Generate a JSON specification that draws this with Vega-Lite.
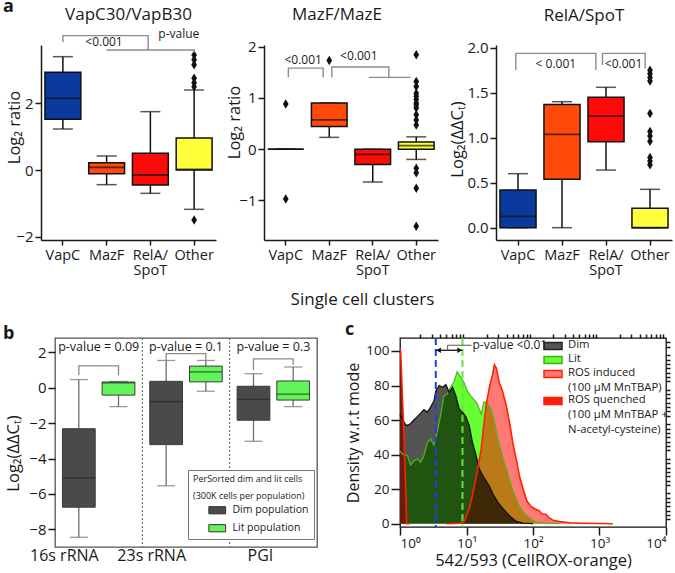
{
"$schema":"https://vega.github.io/schema/vega-lite/v6.json",
"background":"white",
"autosize":{"type":"none"},
"padding":{"left":41,"top":45,"right":634,"bottom":528},
"config":{"font":"Open Sans","view":{"stroke":null},
 "axis":{"labelFont":"Open Sans","titleFont":"Open Sans","labelColor":"#1a1a1a","titleColor":"#1a1a1a","domainColor":"#1a1a1a","tickColor":"#1a1a1a","grid":false,"titleFontWeight":"normal","domainWidth":1.5,"tickWidth":1.5},
 "title":{"font":"Open Sans","fontWeight":"normal","fontSize":17,"color":"#1a1a1a","baseline":"alphabetic"},
 "legend":{"labelFont":"Open Sans","titleFont":"Open Sans","labelColor":"#1a1a1a","titleColor":"#1a1a1a"}},
"resolve":{"scale":{"fill":"independent"},"legend":{"fill":"independent"}},
"spacing":13,
"datasets":{
 "a1box":[{"cat":"VapC","lo":1.23,"q1":1.52,"med":2.15,"q3":2.93,"hi":3.40},{"cat":"MazF","lo":-0.44,"q1":-0.11,"med":0.08,"q3":0.22,"hi":0.42},{"cat":"RelA/SpoT","lo":-0.70,"q1":-0.45,"med":-0.15,"q3":0.50,"hi":1.75},{"cat":"Other","lo":-1.18,"q1":0.0,"med":0.02,"q3":0.96,"hi":2.40}],
 "a1out":[{"cat":"Other","v":3.45},{"cat":"Other","v":3.31},{"cat":"Other","v":3.16},{"cat":"Other","v":2.75},{"cat":"Other","v":2.62},{"cat":"Other","v":2.50},{"cat":"Other","v":-1.50}],
 "a1br":[{"id":1,"o":1,"x":0.5,"y":3.83},{"id":1,"o":2,"x":0.5,"y":4.03},{"id":1,"o":3,"x":2.45,"y":4.03},{"id":1,"o":4,"x":2.45,"y":3.6},{"id":2,"o":1,"x":1.5,"y":3.6},{"id":2,"o":2,"x":3.5,"y":3.6},{"id":2,"o":3,"x":3.5,"y":3.52}],
 "a1txt":[{"x":1.44,"y":3.83,"t":"<0.001"},{"x":3.15,"y":4.07,"t":"p-value"}],
 "a2box":[{"cat":"VapC","lo":0,"q1":0,"med":0,"q3":0,"hi":0},{"cat":"MazF","lo":0.23,"q1":0.44,"med":0.57,"q3":0.90,"hi":0.90},{"cat":"RelA/SpoT","lo":-0.64,"q1":-0.30,"med":-0.10,"q3":0.0,"hi":0.0},{"cat":"Other","lo":-0.20,"q1":0.0,"med":0.07,"q3":0.14,"hi":0.24}],
 "a2out":[{"cat":"VapC","v":0.88},{"cat":"VapC","v":-0.97},{"cat":"MazF","v":1.73},{"cat":"Other","v":1.84},{"cat":"Other","v":1.32},{"cat":"Other","v":1.22},{"cat":"Other","v":1.09},{"cat":"Other","v":1.03},{"cat":"Other","v":0.97},{"cat":"Other","v":0.90},{"cat":"Other","v":0.86},{"cat":"Other","v":0.80},{"cat":"Other","v":0.67},{"cat":"Other","v":0.57},{"cat":"Other","v":0.47},{"cat":"Other","v":-0.37},{"cat":"Other","v":-0.46},{"cat":"Other","v":-0.76},{"cat":"Other","v":-1.50}],
 "a2br":[{"id":1,"o":1,"x":0.56,"y":1.40},{"id":1,"o":2,"x":0.56,"y":1.58},{"id":1,"o":3,"x":1.36,"y":1.58},{"id":1,"o":4,"x":1.36,"y":1.40},{"id":2,"o":1,"x":1.56,"y":1.40},{"id":2,"o":2,"x":1.56,"y":1.60},{"id":2,"o":3,"x":2.87,"y":1.60},{"id":2,"o":4,"x":2.87,"y":1.40},{"id":3,"o":1,"x":2.41,"y":1.40},{"id":3,"o":2,"x":3.37,"y":1.40}],
 "a2txt":[{"x":0.9,"y":1.745,"t":"<0.001"},{"x":2.18,"y":1.81,"t":"<0.001"}],
 "a3box":[{"cat":"VapC","lo":0,"q1":0,"med":0.126,"q3":0.42,"hi":0.60},{"cat":"MazF","lo":0,"q1":0.537,"med":1.037,"q3":1.37,"hi":1.40},{"cat":"RelA/SpoT","lo":0.64,"q1":0.955,"med":1.24,"q3":1.448,"hi":1.56},{"cat":"Other","lo":0,"q1":0,"med":0,"q3":0.215,"hi":0.426}],
 "a3out":[{"cat":"Other","v":1.75},{"cat":"Other","v":1.71},{"cat":"Other","v":1.67},{"cat":"Other","v":1.63},{"cat":"Other","v":1.27},{"cat":"Other","v":1.07},{"cat":"Other","v":1.02},{"cat":"Other","v":0.96},{"cat":"Other","v":0.78},{"cat":"Other","v":0.74},{"cat":"Other","v":0.70}],
 "a3br":[{"id":1,"o":1,"x":0.45,"y":1.752},{"id":1,"o":2,"x":0.45,"y":1.937},{"id":1,"o":3,"x":2.27,"y":1.937},{"id":1,"o":4,"x":2.27,"y":1.752},{"id":2,"o":1,"x":2.42,"y":1.807},{"id":2,"o":2,"x":2.42,"y":1.937},{"id":2,"o":3,"x":3.39,"y":1.937},{"id":2,"o":4,"x":3.39,"y":1.77}],
 "a3txt":[{"x":1.36,"y":1.815,"t":"< 0.001"},{"x":2.9,"y":1.815,"t":"<0.001"}],
 "bbox":[{"gene":"16s rRNA","grp":"Dim population","lo":-8.45,"q1":-6.75,"med":-5.09,"q3":-2.31,"hi":0.47},{"gene":"16s rRNA","grp":"Lit population","lo":-1.06,"q1":-0.41,"med":0.28,"q3":0.33,"hi":0.36},{"gene":"23s rRNA","grp":"Dim population","lo":-5.54,"q1":-3.21,"med":-0.78,"q3":0.37,"hi":1.55},{"gene":"23s rRNA","grp":"Lit population","lo":-0.19,"q1":0.34,"med":0.90,"q3":1.23,"hi":1.55},{"gene":"PGI","grp":"Dim population","lo":-3.02,"q1":-1.83,"med":-0.65,"q3":0.09,"hi":0.80},{"gene":"PGI","grp":"Lit population","lo":-1.06,"q1":-0.69,"med":-0.35,"q3":0.39,"hi":1.18}],
 "bbr":[{"id":1,"o":1,"gene":"16s rRNA","grp":"Dim population","y":0.72},{"id":1,"o":2,"gene":"16s rRNA","grp":"Dim population","y":1.24},{"id":1,"o":3,"gene":"16s rRNA","grp":"Lit population","y":1.24},{"id":1,"o":4,"gene":"16s rRNA","grp":"Lit population","y":0.72},{"id":2,"o":1,"gene":"23s rRNA","grp":"Dim population","y":1.57},{"id":2,"o":2,"gene":"23s rRNA","grp":"Dim population","y":1.94},{"id":2,"o":3,"gene":"23s rRNA","grp":"Lit population","y":1.94},{"id":2,"o":4,"gene":"23s rRNA","grp":"Lit population","y":1.57},{"id":3,"o":1,"gene":"PGI","grp":"Dim population","y":1.0},{"id":3,"o":2,"gene":"PGI","grp":"Dim population","y":1.64},{"id":3,"o":3,"gene":"PGI","grp":"Lit population","y":1.64},{"id":3,"o":4,"gene":"PGI","grp":"Lit population","y":1.3}],
 "btxt":[{"gene":"16s rRNA","y":2.31,"t":"p-value = 0.09"},{"gene":"23s rRNA","y":2.31,"t":"p-value = 0.1"},{"gene":"PGI","y":2.31,"t":"p-value = 0.3"}],
 "bsep":[{"gene":"23s rRNA"},{"gene":"PGI"}],
 "hist":[
  {"s":"Dim","x":1,"y":63},{"s":"Dim","x":1.072,"y":61},{"s":"Dim","x":1.148,"y":59},{"s":"Dim","x":1.23,"y":57},{"s":"Dim","x":1.318,"y":57},{"s":"Dim","x":1.445,"y":58},{"s":"Dim","x":1.622,"y":60},{"s":"Dim","x":1.82,"y":62},{"s":"Dim","x":2.042,"y":64},{"s":"Dim","x":2.291,"y":66},{"s":"Dim","x":2.57,"y":64.5},{"s":"Dim","x":2.884,"y":67.5},{"s":"Dim","x":3.236,"y":71},{"s":"Dim","x":3.467,"y":77},{"s":"Dim","x":3.89,"y":80},{"s":"Dim","x":4.365,"y":79},{"s":"Dim","x":4.898,"y":80.5},{"s":"Dim","x":5.495,"y":76},{"s":"Dim","x":6.166,"y":79},{"s":"Dim","x":6.918,"y":74},{"s":"Dim","x":7.762,"y":66.5},{"s":"Dim","x":8.71,"y":64.5},{"s":"Dim","x":9.772,"y":62},{"s":"Dim","x":10.96,"y":57},{"s":"Dim","x":12.3,"y":47},{"s":"Dim","x":13.8,"y":40},{"s":"Dim","x":15.49,"y":32},{"s":"Dim","x":17.38,"y":28},{"s":"Dim","x":19.5,"y":25},{"s":"Dim","x":21.88,"y":22},{"s":"Dim","x":25.12,"y":17},{"s":"Dim","x":29.51,"y":12.5},{"s":"Dim","x":33.88,"y":9.5},{"s":"Dim","x":38.9,"y":7},{"s":"Dim","x":45.71,"y":4},{"s":"Dim","x":54.95,"y":1.5},{"s":"Dim","x":70.79,"y":0.3},{"s":"Dim","x":100,"y":0},
  {"s":"Lit","x":1,"y":42},{"s":"Lit","x":1.122,"y":40},{"s":"Lit","x":1.288,"y":39.5},{"s":"Lit","x":1.445,"y":34},{"s":"Lit","x":1.622,"y":36.5},{"s":"Lit","x":1.82,"y":37.5},{"s":"Lit","x":2.042,"y":35.5},{"s":"Lit","x":2.291,"y":39.5},{"s":"Lit","x":2.57,"y":47},{"s":"Lit","x":2.884,"y":49},{"s":"Lit","x":3.236,"y":45.5},{"s":"Lit","x":3.631,"y":53},{"s":"Lit","x":4.074,"y":62.5},{"s":"Lit","x":4.571,"y":74},{"s":"Lit","x":5.129,"y":75},{"s":"Lit","x":5.754,"y":79},{"s":"Lit","x":6.457,"y":82},{"s":"Lit","x":7.244,"y":88},{"s":"Lit","x":8.128,"y":85},{"s":"Lit","x":9.12,"y":82},{"s":"Lit","x":10.23,"y":77},{"s":"Lit","x":11.48,"y":74},{"s":"Lit","x":12.88,"y":72},{"s":"Lit","x":14.45,"y":69.5},{"s":"Lit","x":16.6,"y":63.5},{"s":"Lit","x":18.2,"y":70.5},{"s":"Lit","x":20.42,"y":70},{"s":"Lit","x":23.44,"y":66.5},{"s":"Lit","x":26.3,"y":59},{"s":"Lit","x":29.51,"y":49},{"s":"Lit","x":33.11,"y":42},{"s":"Lit","x":37.15,"y":35},{"s":"Lit","x":41.69,"y":29},{"s":"Lit","x":48.98,"y":20},{"s":"Lit","x":56.23,"y":14},{"s":"Lit","x":61.66,"y":10.5},{"s":"Lit","x":69.18,"y":7.5},{"s":"Lit","x":77.62,"y":5},{"s":"Lit","x":93.33,"y":2.5},{"s":"Lit","x":112.2,"y":1},{"s":"Lit","x":158.5,"y":0.3},{"s":"Lit","x":251.2,"y":0},
  {"s":"ROS induced","x":5.012,"y":0},{"s":"ROS induced","x":7.943,"y":0.3},{"s":"ROS induced","x":9.333,"y":1.5},{"s":"ROS induced","x":10.96,"y":8.5},{"s":"ROS induced","x":12.02,"y":15},{"s":"ROS induced","x":13.18,"y":22},{"s":"ROS induced","x":14.79,"y":32},{"s":"ROS induced","x":16.6,"y":43},{"s":"ROS induced","x":18.2,"y":57},{"s":"ROS induced","x":19.95,"y":70},{"s":"ROS induced","x":22.39,"y":80},{"s":"ROS induced","x":24.55,"y":86},{"s":"ROS induced","x":26.3,"y":92},{"s":"ROS induced","x":28.18,"y":90},{"s":"ROS induced","x":30.9,"y":82},{"s":"ROS induced","x":34.67,"y":77},{"s":"ROS induced","x":39.81,"y":68},{"s":"ROS induced","x":44.67,"y":58},{"s":"ROS induced","x":50.12,"y":46},{"s":"ROS induced","x":56.23,"y":37},{"s":"ROS induced","x":63.1,"y":27},{"s":"ROS induced","x":72.44,"y":19},{"s":"ROS induced","x":81.28,"y":13},{"s":"ROS induced","x":93.33,"y":10},{"s":"ROS induced","x":107.2,"y":8.5},{"s":"ROS induced","x":123,"y":7.5},{"s":"ROS induced","x":138,"y":5.5},{"s":"ROS induced","x":154.9,"y":5.5},{"s":"ROS induced","x":173.8,"y":3.5},{"s":"ROS induced","x":199.5,"y":2},{"s":"ROS induced","x":251.2,"y":1.2},{"s":"ROS induced","x":354.8,"y":0.6},{"s":"ROS induced","x":562.3,"y":0.3},{"s":"ROS induced","x":1000,"y":0.1},{"s":"ROS induced","x":1585,"y":0},
  {"s":"ROS quenched","x":1,"y":101},{"s":"ROS quenched","x":1.023,"y":100},{"s":"ROS quenched","x":1.072,"y":80},{"s":"ROS quenched","x":1.122,"y":60},{"s":"ROS quenched","x":1.175,"y":38},{"s":"ROS quenched","x":1.23,"y":15},{"s":"ROS quenched","x":1.259,"y":0},{"s":"ROS quenched","x":1.413,"y":0}
 ],
 "cdash":[{"x":3.45,"c":"#1f3fe6"},{"x":8.7,"c":"#66e040"}],
 "carrow":[{"x":3.45,"x2":8.7,"y":100.4}],
 "chead":[{"x":3.8,"y":100.4,"sh":"triangle-left"},{"x":7.9,"y":100.4,"sh":"triangle-right"}],
 "cbr":[{"o":1,"x":5.2,"y":100.4},{"o":2,"x":5.2,"y":103.3},{"o":3,"x":11.9,"y":103.3}],
 "ctxt":[{"x":12.3,"y":103.3,"t":"p-value <0.01"}]
},
"vconcat":[
{"hconcat":[
 {"width":175,"height":195,
  "title":{"text":"VapC30/VapB30","offset":4},
  "resolve":{"scale":{"x":"independent"}},
  "layer":[
   {"data":{"name":"a1box"},
    "encoding":{"x":{"field":"cat","type":"nominal","title":null,"scale":{"domain":["VapC","MazF","RelA/SpoT","Other"],"paddingInner":0.18,"paddingOuter":0.09},"axis":{"labelAngle":0,"labelFontSize":14.5,"labelPadding":3,"tickSize":5,"labelLineHeight":15,"labelExpr":"datum.value == 'RelA/SpoT' ? ['RelA/', 'SpoT'] : datum.value"}}},
    "layer":[
     {"mark":{"type":"rule","color":"#111","strokeWidth":1.5},"encoding":{"y":{"field":"lo","type":"quantitative","title":"Log₂ ratio","scale":{"domain":[-2.1,3.75],"nice":false,"zero":false},"axis":{"values":[-2,-1,0,1,2,3],"tickSize":6,"labelFontSize":15,"labelPadding":2,"titleFontSize":16.5,"titleX":-19,"titleY":82}},"y2":{"field":"q1"}}},
     {"mark":{"type":"rule","color":"#111","strokeWidth":1.5},"encoding":{"y":{"field":"q3","type":"quantitative","title":"Log₂ ratio","scale":{"domain":[-2.1,3.75],"nice":false,"zero":false}},"y2":{"field":"hi"}}},
     {"mark":{"type":"tick","color":"#111","size":20,"thickness":1.5},"encoding":{"y":{"field":"lo","type":"quantitative","title":"Log₂ ratio","scale":{"domain":[-2.1,3.75],"nice":false,"zero":false}}}},
     {"mark":{"type":"tick","color":"#111","size":20,"thickness":1.5},"encoding":{"y":{"field":"hi","type":"quantitative","title":"Log₂ ratio","scale":{"domain":[-2.1,3.75],"nice":false,"zero":false}}}},
     {"mark":{"type":"bar","stroke":"#111","strokeWidth":1.5},"encoding":{"y":{"field":"q1","type":"quantitative","title":"Log₂ ratio","scale":{"domain":[-2.1,3.75],"nice":false,"zero":false}},"y2":{"field":"q3"},"fill":{"field":"cat","type":"nominal","scale":{"domain":["VapC","MazF","RelA/SpoT","Other"],"range":["#0b3a9e","#ff4a0a","#ff0a0a","#ffff3a"]},"legend":null}}},
     {"mark":{"type":"tick","color":"#111","size":36,"thickness":1.8},"encoding":{"y":{"field":"med","type":"quantitative","title":"Log₂ ratio","scale":{"domain":[-2.1,3.75],"nice":false,"zero":false}}}},
     {"data":{"name":"a1out"},"mark":{"type":"point","shape":"M0,-1L0.6,0L0,1L-0.6,0Z","filled":true,"color":"#111","size":90,"opacity":1},"encoding":{"y":{"field":"v","type":"quantitative","title":"Log₂ ratio","scale":{"domain":[-2.1,3.75],"nice":false,"zero":false}}}}
    ]},
   {"data":{"name":"a1br"},"mark":{"type":"line","color":"#8c8c8c","strokeWidth":1.4},"encoding":{"x":{"field":"x","type":"quantitative","scale":{"domain":[0,4]},"axis":null},"y":{"field":"y","type":"quantitative","title":"Log₂ ratio","scale":{"domain":[-2.1,3.75],"nice":false,"zero":false}},"detail":{"field":"id","type":"nominal"},"order":{"field":"o","type":"quantitative"}}},
   {"data":{"name":"a1txt"},"mark":{"type":"text","fontSize":12,"color":"#1a1a1a"},"encoding":{"x":{"field":"x","type":"quantitative","scale":{"domain":[0,4]},"axis":null},"y":{"field":"y","type":"quantitative","title":"Log₂ ratio","scale":{"domain":[-2.1,3.75],"nice":false,"zero":false}},"text":{"field":"t"}}}
  ]},
 {"width":8,"height":195,"data":{"values":[{}]},"mark":{"type":"text"},"encoding":{"text":{"value":""}}},
 {"width":174,"height":195,
  "title":{"text":"MazF/MazE","offset":15.5,"dx":-14},
  "resolve":{"scale":{"x":"independent"}},
  "layer":[
   {"data":{"name":"a2box"},
    "encoding":{"x":{"field":"cat","type":"nominal","scale":{"domain":["VapC","MazF","RelA/SpoT","Other"],"paddingInner":0.18,"paddingOuter":0.09},"axis":{"title":"Single cell clusters","titleFontSize":17,"titleX":98,"titleY":64,"titleBaseline":"alphabetic","labelAngle":0,"labelFontSize":14.5,"labelPadding":3,"tickSize":5,"labelLineHeight":15,"labelExpr":"datum.value == 'RelA/SpoT' ? ['RelA/', 'SpoT'] : datum.value"}}},
    "layer":[
     {"mark":{"type":"rule","color":"#111","strokeWidth":1.5},"encoding":{"y":{"field":"lo","type":"quantitative","title":"Log₂ ratio","scale":{"domain":[-1.77,2.03],"nice":false,"zero":false},"axis":{"values":[-1,0,1,2],"tickSize":6,"labelFontSize":15,"labelPadding":2,"titleFontSize":16.5,"titleX":-22,"titleY":77}},"y2":{"field":"q1"}}},
     {"mark":{"type":"rule","color":"#111","strokeWidth":1.5},"encoding":{"y":{"field":"q3","type":"quantitative","title":"Log₂ ratio","scale":{"domain":[-1.77,2.03],"nice":false,"zero":false}},"y2":{"field":"hi"}}},
     {"mark":{"type":"tick","color":"#111","size":20,"thickness":1.5},"encoding":{"y":{"field":"lo","type":"quantitative","title":"Log₂ ratio","scale":{"domain":[-1.77,2.03],"nice":false,"zero":false}}}},
     {"mark":{"type":"tick","color":"#111","size":20,"thickness":1.5},"encoding":{"y":{"field":"hi","type":"quantitative","title":"Log₂ ratio","scale":{"domain":[-1.77,2.03],"nice":false,"zero":false}}}},
     {"mark":{"type":"bar","stroke":"#111","strokeWidth":1.5},"encoding":{"y":{"field":"q1","type":"quantitative","title":"Log₂ ratio","scale":{"domain":[-1.77,2.03],"nice":false,"zero":false}},"y2":{"field":"q3"},"fill":{"field":"cat","type":"nominal","scale":{"domain":["VapC","MazF","RelA/SpoT","Other"],"range":["#0b3a9e","#ff4a0a","#ff0a0a","#ffff3a"]},"legend":null}}},
     {"mark":{"type":"tick","color":"#111","size":36,"thickness":1.8},"encoding":{"y":{"field":"med","type":"quantitative","title":"Log₂ ratio","scale":{"domain":[-1.77,2.03],"nice":false,"zero":false}}}},
     {"data":{"name":"a2out"},"mark":{"type":"point","shape":"M0,-1L0.6,0L0,1L-0.6,0Z","filled":true,"color":"#111","size":90,"opacity":1},"encoding":{"y":{"field":"v","type":"quantitative","title":"Log₂ ratio","scale":{"domain":[-1.77,2.03],"nice":false,"zero":false}}}}
    ]},
   {"data":{"name":"a2br"},"mark":{"type":"line","color":"#8c8c8c","strokeWidth":1.4},"encoding":{"x":{"field":"x","type":"quantitative","scale":{"domain":[0,4]},"axis":null},"y":{"field":"y","type":"quantitative","title":"Log₂ ratio","scale":{"domain":[-1.77,2.03],"nice":false,"zero":false}},"detail":{"field":"id","type":"nominal"},"order":{"field":"o","type":"quantitative"}}},
   {"data":{"name":"a2txt"},"mark":{"type":"text","fontSize":12,"color":"#1a1a1a"},"encoding":{"x":{"field":"x","type":"quantitative","scale":{"domain":[0,4]},"axis":null},"y":{"field":"y","type":"quantitative","title":"Log₂ ratio","scale":{"domain":[-1.77,2.03],"nice":false,"zero":false}},"text":{"field":"t"}}}
  ]},
 {"width":18,"height":195,"data":{"values":[{}]},"mark":{"type":"text"},"encoding":{"text":{"value":""}}},
 {"width":176,"height":195,
  "title":{"text":"RelA/SpoT","offset":15.5},
  "resolve":{"scale":{"x":"independent"}},
  "layer":[
   {"data":{"name":"a3box"},
    "encoding":{"x":{"field":"cat","type":"nominal","title":null,"scale":{"domain":["VapC","MazF","RelA/SpoT","Other"],"paddingInner":0.18,"paddingOuter":0.09},"axis":{"labelAngle":0,"labelFontSize":14.5,"labelPadding":3,"tickSize":5,"labelLineHeight":15,"labelExpr":"datum.value == 'RelA/SpoT' ? ['RelA/', 'SpoT'] : datum.value"}}},
    "layer":[
     {"mark":{"type":"rule","color":"#111","strokeWidth":1.5},"encoding":{"y":{"field":"lo","type":"quantitative","title":"Log₂(ΔΔCₜ)","scale":{"domain":[-0.137,2.03],"nice":false,"zero":false},"axis":{"values":[0,0.5,1,1.5,2],"format":".1f","tickSize":6,"labelFontSize":15,"labelPadding":2,"titleFontSize":16.5,"titleX":-31,"titleY":94}},"y2":{"field":"q1"}}},
     {"mark":{"type":"rule","color":"#111","strokeWidth":1.5},"encoding":{"y":{"field":"q3","type":"quantitative","title":"Log₂(ΔΔCₜ)","scale":{"domain":[-0.137,2.03],"nice":false,"zero":false}},"y2":{"field":"hi"}}},
     {"mark":{"type":"tick","color":"#111","size":20,"thickness":1.5},"encoding":{"y":{"field":"lo","type":"quantitative","title":"Log₂(ΔΔCₜ)","scale":{"domain":[-0.137,2.03],"nice":false,"zero":false}}}},
     {"mark":{"type":"tick","color":"#111","size":20,"thickness":1.5},"encoding":{"y":{"field":"hi","type":"quantitative","title":"Log₂(ΔΔCₜ)","scale":{"domain":[-0.137,2.03],"nice":false,"zero":false}}}},
     {"mark":{"type":"bar","stroke":"#111","strokeWidth":1.5},"encoding":{"y":{"field":"q1","type":"quantitative","title":"Log₂(ΔΔCₜ)","scale":{"domain":[-0.137,2.03],"nice":false,"zero":false}},"y2":{"field":"q3"},"fill":{"field":"cat","type":"nominal","scale":{"domain":["VapC","MazF","RelA/SpoT","Other"],"range":["#0b3a9e","#ff4a0a","#ff0a0a","#ffff3a"]},"legend":null}}},
     {"mark":{"type":"tick","color":"#111","size":36,"thickness":1.8},"encoding":{"y":{"field":"med","type":"quantitative","title":"Log₂(ΔΔCₜ)","scale":{"domain":[-0.137,2.03],"nice":false,"zero":false}}}},
     {"data":{"name":"a3out"},"mark":{"type":"point","shape":"M0,-1L0.6,0L0,1L-0.6,0Z","filled":true,"color":"#111","size":90,"opacity":1},"encoding":{"y":{"field":"v","type":"quantitative","title":"Log₂(ΔΔCₜ)","scale":{"domain":[-0.137,2.03],"nice":false,"zero":false}}}}
    ]},
   {"data":{"name":"a3br"},"mark":{"type":"line","color":"#8c8c8c","strokeWidth":1.4},"encoding":{"x":{"field":"x","type":"quantitative","scale":{"domain":[0,4]},"axis":null},"y":{"field":"y","type":"quantitative","title":"Log₂(ΔΔCₜ)","scale":{"domain":[-0.137,2.03],"nice":false,"zero":false}},"detail":{"field":"id","type":"nominal"},"order":{"field":"o","type":"quantitative"}}},
   {"data":{"name":"a3txt"},"mark":{"type":"text","fontSize":12,"color":"#1a1a1a"},"encoding":{"x":{"field":"x","type":"quantitative","scale":{"domain":[0,4]},"axis":null},"y":{"field":"y","type":"quantitative","title":"Log₂(ΔΔCₜ)","scale":{"domain":[-0.137,2.03],"nice":false,"zero":false}},"text":{"field":"t"}}}
  ]}
 ],
 "spacing":20,"bounds":"flush",
 "resolve":{"scale":{"fill":"independent"},"legend":{"fill":"independent"}},
 "title":{"text":"a","anchor":"start","frame":"group","dx":-38,"offset":-10,"fontSize":18,"fontWeight":"bold"}},
{"hconcat":[
 {"width":7,"height":209,"data":{"values":[{}]},"mark":{"type":"text"},"encoding":{"text":{"value":""}}},
 {"width":262,"height":209,
  "title":{"text":"b","anchor":"start","frame":"group","dx":-52,"offset":-5,"fontSize":18,"fontWeight":"bold"},
  "view":{"stroke":"#555","strokeWidth":1.3},
  "layer":[
   {"data":{"name":"bsep"},"mark":{"type":"rule","color":"#3d6e3d","strokeDash":[2,2],"strokeWidth":1},"encoding":{"x":{"field":"gene","type":"nominal","title":null,"bandPosition":0,"scale":{"domain":["16s rRNA","23s rRNA","PGI"],"paddingInner":0,"paddingOuter":0}}}},
   {"data":{"name":"bbox"},
    "encoding":{"x":{"field":"gene","type":"nominal","title":null,"scale":{"domain":["16s rRNA","23s rRNA","PGI"],"paddingInner":0,"paddingOuter":0},"axis":{"labelAngle":0,"labelFontSize":16,"labelPadding":8,"ticks":false,"domain":false}},
     "xOffset":{"field":"grp","type":"nominal","scale":{"domain":["Dim population","Lit population"],"paddingInner":0.175,"paddingOuter":0.1875}}},
    "layer":[
     {"mark":{"type":"rule","color":"#6e6e6e","strokeWidth":1.3},"encoding":{"y":{"field":"lo","type":"quantitative","title":"Log₂(ΔΔCₜ)","scale":{"domain":[-9.0,2.82],"nice":false,"zero":false},"axis":{"values":[-8,-6,-4,-2,0,2],"tickSize":7,"labelFontSize":15,"labelPadding":2,"titleFontSize":16.5,"titleX":-34,"titleY":115,"domain":false}},"y2":{"field":"hi"}}},
     {"mark":{"type":"tick","color":"#6e6e6e","size":18,"thickness":1.3},"encoding":{"y":{"field":"lo","type":"quantitative","title":"Log₂(ΔΔCₜ)","scale":{"domain":[-9.0,2.82],"nice":false,"zero":false}}}},
     {"mark":{"type":"tick","color":"#6e6e6e","size":18,"thickness":1.3},"encoding":{"y":{"field":"hi","type":"quantitative","title":"Log₂(ΔΔCₜ)","scale":{"domain":[-9.0,2.82],"nice":false,"zero":false}}}},
     {"mark":{"type":"bar","stroke":"#3a3a3a","strokeWidth":1},"encoding":{"y":{"field":"q1","type":"quantitative","title":"Log₂(ΔΔCₜ)","scale":{"domain":[-9.0,2.82],"nice":false,"zero":false}},"y2":{"field":"q3"},
       "fill":{"field":"grp","type":"nominal","scale":{"domain":["Dim population","Lit population"],"range":["#4a4a4a","#62f55a"]},
        "legend":{"orient":"none","legendX":133,"legendY":132,"title":["PerSorted dim and lit cells","(300K cells per population)"],"titleFontSize":9,"titleFontWeight":"normal","titleLineHeight":17,"titlePadding":4,"labelFontSize":10.5,"symbolType":"M-2.1,-0.9H2.1V0.9H-2.1Z","symbolSize":64,"symbolOffset":19,"symbolStrokeColor":"#333","symbolStrokeWidth":1,"strokeColor":"#777","fillColor":"white","padding":5,"rowPadding":6,"labelOffset":10}}}},
     {"mark":{"type":"tick","color":"#222","size":33,"thickness":1.3},"encoding":{"y":{"field":"med","type":"quantitative","title":"Log₂(ΔΔCₜ)","scale":{"domain":[-9.0,2.82],"nice":false,"zero":false}}}}
    ]},
   {"data":{"name":"bbr"},"mark":{"type":"line","color":"#8c8c8c","strokeWidth":1.3},"encoding":{"x":{"field":"gene","type":"nominal","title":null},"xOffset":{"field":"grp","type":"nominal"},"y":{"field":"y","type":"quantitative","title":"Log₂(ΔΔCₜ)","scale":{"domain":[-9.0,2.82],"nice":false,"zero":false}},"detail":{"field":"id","type":"nominal"},"order":{"field":"o","type":"quantitative"}}},
   {"data":{"name":"btxt"},"mark":{"type":"text","fontSize":12.5,"color":"#1a1a1a"},"encoding":{"x":{"field":"gene","type":"nominal","title":null},"y":{"field":"y","type":"quantitative","title":"Log₂(ΔΔCₜ)","scale":{"domain":[-9.0,2.82],"nice":false,"zero":false}},"text":{"field":"t"}}}
  ]},
 {"width":69,"height":189,"data":{"values":[{}]},"mark":{"type":"text"},"encoding":{"text":{"value":""}}},
 {"width":266,"height":189,
  "title":{"text":"c","anchor":"start","frame":"group","dx":-55,"offset":-6,"fontSize":18,"fontWeight":"bold"},
  "view":{"stroke":"#111","strokeWidth":1.3},
  "data":{"name":"hist"},
  "resolve":{"axis":{"x":"independent","y":"independent"}},
  "layer":[
   {"transform":[{"filter":"datum.s == 'Lit'"}],"mark":{"type":"area","fillOpacity":1},
    "encoding":{"x":{"field":"x","type":"quantitative","scale":{"type":"log","domain":[1,10000],"nice":false},"axis":{"values":[1,10,100,1000,10000],"tickSize":8,"labelFontSize":13.5,"labelPadding":1,"domain":false,"title":"542/593 (CellROX-orange)","titleFontSize":16.5,"titlePadding":3,"labelExpr":"'10' + ['⁰','¹','²','³','⁴'][round(log(datum.value)/LN10)]"}},
     "y":{"field":"y","type":"quantitative","scale":{"domain":[-1.9,107.5],"nice":false,"zero":false},"axis":{"values":[0,20,40,60,80,100],"tickSize":9,"labelFontSize":13.5,"labelPadding":2,"domain":false,"title":"Density w.r.t mode","titleFontSize":16,"titleX":-39}},
     "fill":{"field":"s","type":"nominal","scale":{"domain":["Dim","Lit","ROS induced","ROS quenched"],"range":["#000000","#66ff33","#ff0a00","#ff1a10"]},
      "legend":{"orient":"none","legendX":147,"legendY":2,"padding":0,"title":null,"labelFontSize":11.3,"labelLimit":300,"symbolType":"M-1.8,-0.7H1.8V0.7H-1.8Z","symbolSize":100,"symbolStrokeWidth":1.5,"rowPadding":0,"labelOffset":9,"labelBaseline":"top","labelExpr":"datum.label == 'ROS induced' ? ['ROS induced', '(100 µM MnTBAP)'] : datum.label == 'ROS quenched' ? ['ROS quenched', '(100 µM MnTBAP +', 'N-acetyl-cysteine)'] : datum.label",
       "encode":{"labels":{"update":{"dy":{"value":-7},"lineHeight":{"value":15}}},"symbols":{"update":{"fillOpacity":{"signal":"datum.value == 'Dim' ? 0.67 : datum.value == 'ROS induced' ? 0.54 : 1"},"stroke":{"signal":"datum.value == 'Dim' ? '#222222' : datum.value == 'Lit' ? '#3fb020' : '#ff2200'"}}}}}}}},
   {"transform":[{"filter":"datum.s == 'ROS induced'"}],"mark":{"type":"area","fillOpacity":0.54},
    "encoding":{"x":{"field":"x","type":"quantitative","scale":{"type":"log","domain":[1,10000],"nice":false},"axis":null},"y":{"field":"y","type":"quantitative","scale":{"domain":[-1.9,107.5],"nice":false,"zero":false},"axis":null},"fill":{"field":"s","type":"nominal"}}},
   {"transform":[{"filter":"datum.s == 'Dim'"}],"mark":{"type":"area","fillOpacity":0.67},
    "encoding":{"x":{"field":"x","type":"quantitative","scale":{"type":"log","domain":[1,10000],"nice":false},"axis":{"values":[2,3,4,5,6,7,8,9,20,30,40,50,60,70,80,90,200,300,400,500,600,700,800,900,2000,3000,4000,5000,6000,7000,8000,9000],"tickSize":4,"labels":false,"domain":false,"title":null}},
     "y":{"field":"y","type":"quantitative","scale":{"domain":[-1.9,107.5],"nice":false,"zero":false},"axis":{"values":[2.5,5,7.5,10,12.5,15,17.5,22.5,25,27.5,30,32.5,35,37.5,42.5,45,47.5,50,52.5,55,57.5,62.5,65,67.5,70,72.5,75,77.5,82.5,85,87.5,90,92.5,95,97.5,102.5,105],"tickSize":4,"labels":false,"domain":false,"title":null}},"fill":{"field":"s","type":"nominal"}}},
   {"transform":[{"filter":"datum.s == 'ROS quenched'"}],"mark":{"type":"area","fill":"#6a1c10","fillOpacity":1},
    "encoding":{"x":{"field":"x","type":"quantitative","scale":{"type":"log","domain":[1,10000],"nice":false},"axis":null},"y":{"field":"y","type":"quantitative","scale":{"domain":[-1.9,107.5],"nice":false,"zero":false},"axis":null}}},
   {"transform":[{"filter":"datum.s == 'Lit'"}],"mark":{"type":"line","color":"#4cb81e","strokeWidth":1.2},
    "encoding":{"x":{"field":"x","type":"quantitative","scale":{"type":"log","domain":[1,10000],"nice":false},"axis":null},"y":{"field":"y","type":"quantitative","scale":{"domain":[-1.9,107.5],"nice":false,"zero":false},"axis":null}}},
   {"transform":[{"filter":"datum.s == 'Dim'"}],"mark":{"type":"line","color":"#111","strokeWidth":1.3},
    "encoding":{"x":{"field":"x","type":"quantitative","scale":{"type":"log","domain":[1,10000],"nice":false},"axis":null},"y":{"field":"y","type":"quantitative","scale":{"domain":[-1.9,107.5],"nice":false,"zero":false},"axis":null}}},
   {"transform":[{"filter":"datum.s == 'ROS induced' || datum.s == 'ROS quenched'"}],"mark":{"type":"line","color":"#ff2200","strokeWidth":1.6},
    "encoding":{"x":{"field":"x","type":"quantitative","scale":{"type":"log","domain":[1,10000],"nice":false},"axis":null},"y":{"field":"y","type":"quantitative","scale":{"domain":[-1.9,107.5],"nice":false,"zero":false},"axis":null},"detail":{"field":"s","type":"nominal"}}},
   {"data":{"name":"cdash"},"mark":{"type":"rule","strokeDash":[7,4],"strokeWidth":2},
    "encoding":{"x":{"field":"x","type":"quantitative","scale":{"type":"log","domain":[1,10000],"nice":false},"axis":null},"color":{"field":"c","type":"nominal","scale":null}}},
   {"data":{"name":"carrow"},"mark":{"type":"rule","color":"#111","strokeWidth":1.3},
    "encoding":{"x":{"field":"x","type":"quantitative","scale":{"type":"log","domain":[1,10000],"nice":false},"axis":null},"x2":{"field":"x2"},"y":{"field":"y","type":"quantitative","scale":{"domain":[-1.9,107.5],"nice":false,"zero":false},"axis":null}}},
   {"data":{"name":"chead"},"mark":{"type":"point","filled":true,"color":"#111","size":30,"opacity":1},
    "encoding":{"x":{"field":"x","type":"quantitative","scale":{"type":"log","domain":[1,10000],"nice":false},"axis":null},"y":{"field":"y","type":"quantitative","scale":{"domain":[-1.9,107.5],"nice":false,"zero":false},"axis":null},"shape":{"field":"sh","type":"nominal","scale":null}}},
   {"data":{"name":"cbr"},"mark":{"type":"line","color":"#555","strokeWidth":1},
    "encoding":{"x":{"field":"x","type":"quantitative","scale":{"type":"log","domain":[1,10000],"nice":false},"axis":null},"y":{"field":"y","type":"quantitative","scale":{"domain":[-1.9,107.5],"nice":false,"zero":false},"axis":null},"order":{"field":"o","type":"quantitative"}}},
   {"data":{"name":"ctxt"},"mark":{"type":"text","align":"left","fontSize":12,"color":"#1a1a1a"},
    "encoding":{"x":{"field":"x","type":"quantitative","scale":{"type":"log","domain":[1,10000],"nice":false},"axis":null},"y":{"field":"y","type":"quantitative","scale":{"domain":[-1.9,107.5],"nice":false,"zero":false},"axis":null},"text":{"field":"t"}}}
  ]}
 ],
 "spacing":7,"bounds":"flush",
 "resolve":{"scale":{"fill":"independent"},"legend":{"fill":"independent"}}}
]
}
